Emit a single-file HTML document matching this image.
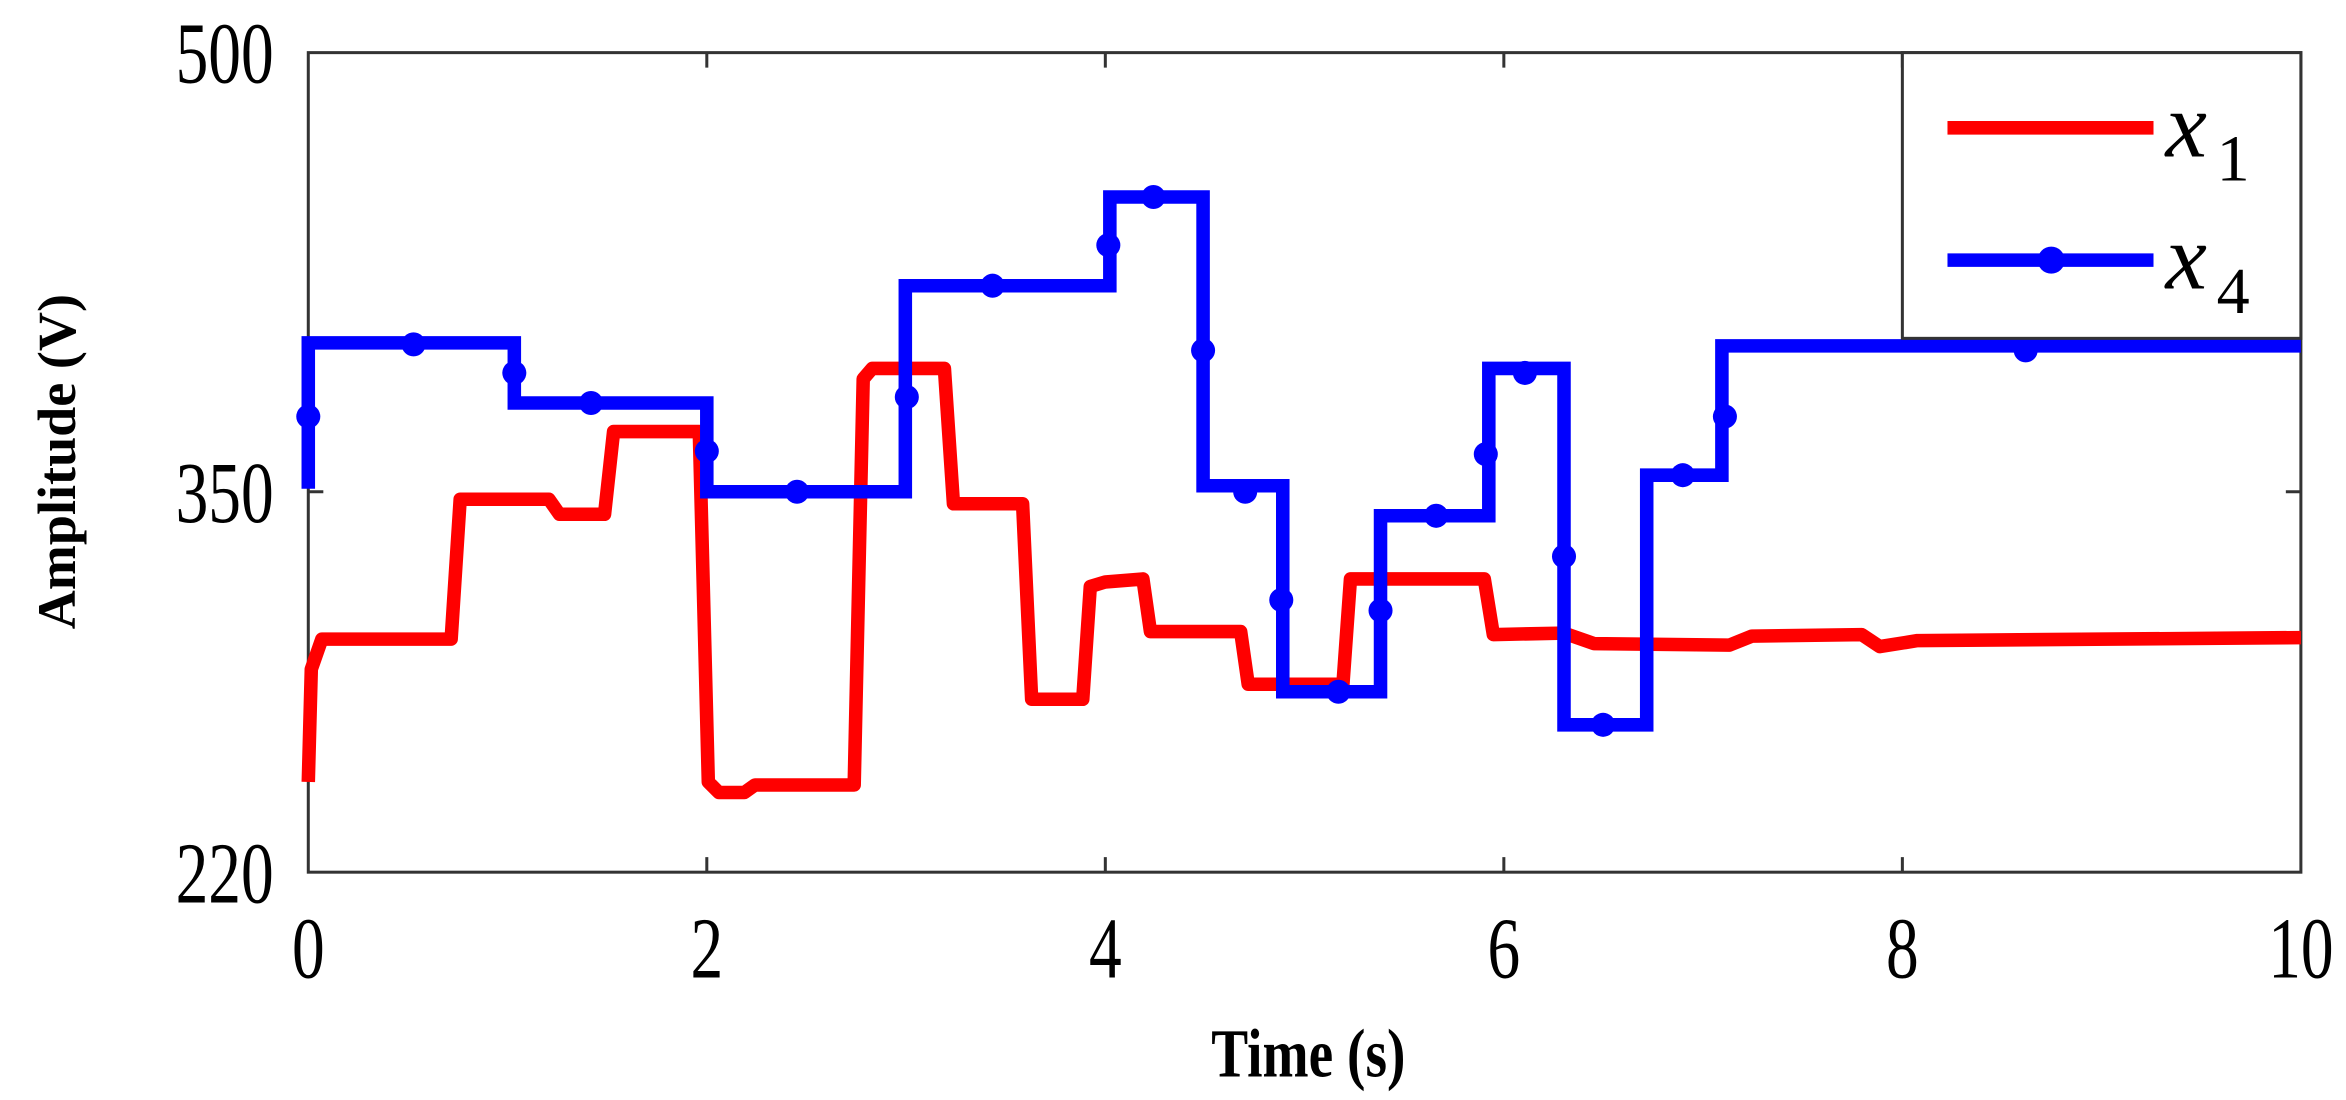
<!DOCTYPE html>
<html><head><meta charset="utf-8"><style>html,body{margin:0;padding:0;background:#fff;}svg{display:block}</style></head>
<body>
<svg width="2346" height="1100" viewBox="0 0 1560 731.5" preserveAspectRatio="none" xmlns="http://www.w3.org/2000/svg">
<rect width="1560" height="731.5" fill="#fff"/>
<g stroke="#333" stroke-width="2" fill="none">
<rect x="205" y="35" width="1325" height="545"/>
<path d="M470,580v-10M735,580v-10M1000,580v-10M1265,580v-10M470,35v10M735,35v10M1000,35v10M1265,35v10M205,327h10M1530,327h-10"/>
</g>
<g font-family="'Liberation Serif',serif" font-size="58" fill="#000" text-anchor="middle">
<text transform="translate(205,600) scale(0.75,1)" y="50">0</text>
<text transform="translate(470,600) scale(0.75,1)" y="50">2</text>
<text transform="translate(735,600) scale(0.75,1)" y="50">4</text>
<text transform="translate(1000,600) scale(0.75,1)" y="50">6</text>
<text transform="translate(1265,600) scale(0.75,1)" y="50">8</text>
<text transform="translate(1530,600) scale(0.75,1)" y="50">10</text>
<g text-anchor="end">
<text transform="translate(182,35) scale(0.75,1)" y="20">500</text>
<text transform="translate(182,327) scale(0.75,1)" y="20">350</text>
<text transform="translate(182,580) scale(0.75,1)" y="20">220</text>
</g>
<text transform="translate(870,716) scale(0.8,1)" font-weight="bold" font-size="46">Time (s)</text>
<text transform="translate(50,307) rotate(-90)" font-weight="bold" font-size="36">Amplitude (V)</text>
</g>
<path fill="none" stroke="#f00" stroke-width="9" stroke-linejoin="round" d="M205,520 L207,445 L214,425 L300,425 L306,332 L365,332 L372,342 L402,342 L408,287 L465,287 L471,520 L478,527 L495,527 L502,522 L568,522 L574,252 L580,245 L628,245 L634,335 L680,335 L686,465 L720,465 L725,390 L735,387 L760,385 L765,420 L825,420 L830,455 L893,455 L898,385 L987,385 L993,422 L1040,421 L1060,428 L1150,429 L1165,423 L1238,422 L1250,430 L1275,426 L1530,424"/>
<path fill="none" stroke="#00f" stroke-width="9" stroke-linejoin="miter" d="M205,325 L205,228 L342,228 L342,268 L470,268 L470,327 L602,327 L602,190 L738,190 L738,131 L800,131 L800,323 L853,323 L853,460 L918,460 L918,343 L990,343 L990,245 L1040,245 L1040,482 L1095,482 L1095,316 L1145,316 L1145,230 L1530,230"/>
<g fill="#00f">
<circle cx="205" cy="277" r="8"/><circle cx="275" cy="229" r="8"/><circle cx="342" cy="248" r="8"/><circle cx="393" cy="268" r="8"/><circle cx="470" cy="300" r="8"/><circle cx="530" cy="327" r="8"/><circle cx="603" cy="264" r="8"/><circle cx="660" cy="190" r="8"/><circle cx="737" cy="163" r="8"/><circle cx="767" cy="131" r="8"/><circle cx="800" cy="233" r="8"/><circle cx="828" cy="327" r="8"/><circle cx="852" cy="399" r="8"/><circle cx="890" cy="460" r="8"/><circle cx="918" cy="406" r="8"/><circle cx="955" cy="343" r="8"/><circle cx="988" cy="302" r="8"/><circle cx="1014" cy="248" r="8"/><circle cx="1040" cy="370" r="8"/><circle cx="1066" cy="482" r="8"/><circle cx="1119" cy="316" r="8"/><circle cx="1147" cy="277" r="8"/><circle cx="1347" cy="233" r="8"/>
</g>
<rect x="1265" y="35" width="265" height="190" fill="#fff" stroke="#333" stroke-width="2"/>
<path d="M1295,85H1432" stroke="#f00" stroke-width="9"/>
<path d="M1295,173H1432" stroke="#00f" stroke-width="9"/>
<circle cx="1364" cy="173" r="9" fill="#00f"/>
<g font-family="'Liberation Serif',serif" font-style="italic" fill="#000">
<text x="1440" y="104" font-size="62">x</text><text x="1474" y="120" font-size="44" font-style="normal">1</text>
<text x="1440" y="192" font-size="62">x</text><text x="1474" y="208" font-size="44" font-style="normal">4</text>
</g>
</svg>
</body></html>
